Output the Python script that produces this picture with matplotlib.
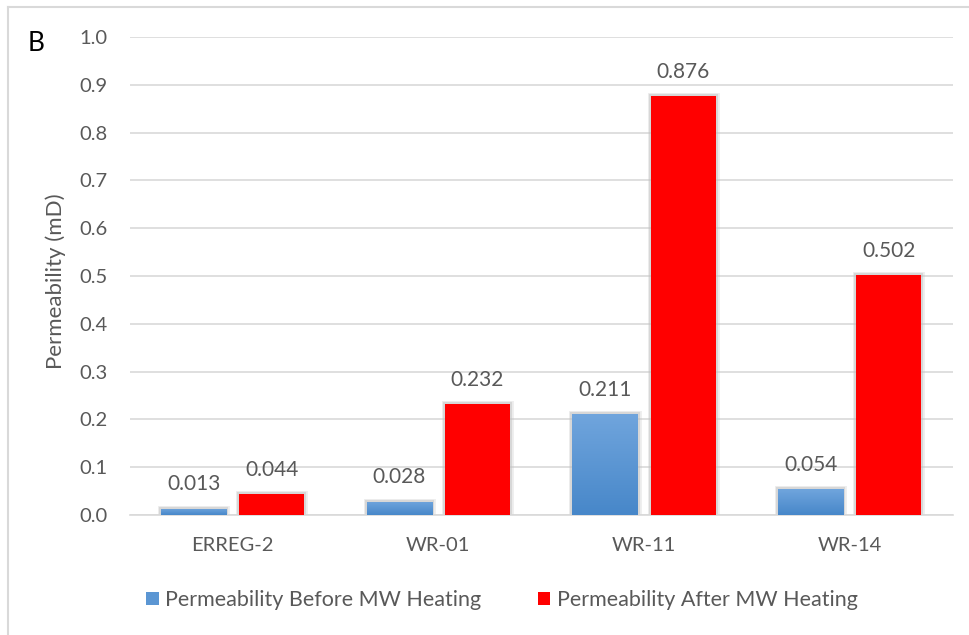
import numpy as np
import matplotlib.pyplot as plt
from matplotlib.colors import LinearSegmentedColormap
from matplotlib.patches import Rectangle
from matplotlib.lines import Line2D

plt.rcParams["font.family"] = ["Lato", "DejaVu Sans"]

categories = ["ERREG-2", "WR-01", "WR-11", "WR-14"]
before = [0.013, 0.028, 0.211, 0.054]
after = [0.044, 0.232, 0.876, 0.502]
labels = ["Permeability Before MW Heating", "Permeability After MW Heating"]

text_c = "#595959"
grid_c = "#d9d9d9"
red = "#ff0000"
blue_top, blue_bot = "#70a5dd", "#4787c9"

fig = plt.figure(figsize=(9.69, 6.35), dpi=100)
ax = fig.add_axes([0.134, 0.189, 0.849, 0.7525])

x = np.arange(len(categories))
w = 0.317
off = 0.19

blue_cmap = LinearSegmentedColormap.from_list("b", [blue_bot, blue_top])
grad = np.linspace(0, 1, 256).reshape(-1, 1)

# soft shadow-ish outlines behind bars
for lw, a in [(5, 0.25), (3, 0.5)]:
    ax.bar(x - off, before, w, color="none", edgecolor="#c0c0c0", linewidth=lw,
           alpha=a, zorder=2)
    ax.bar(x + off, after, w, color="none", edgecolor="#c0c0c0", linewidth=lw,
           alpha=a, zorder=2)

bars_b = ax.bar(x - off, before, w, color=blue_top, linewidth=0, zorder=3)
bars_a = ax.bar(x + off, after, w, color=red, linewidth=0, zorder=3)

for b in bars_b:
    x0, y0 = b.get_x(), b.get_y()
    bw, bh = b.get_width(), b.get_height()
    im = ax.imshow(grad, cmap=blue_cmap, origin="lower", aspect="auto",
                   extent=[x0, x0 + bw, y0, y0 + bh], zorder=3.5)
    im.set_clip_path(b)

for bars, vals in [(bars_b, before), (bars_a, after)]:
    for b, v in zip(bars, vals):
        ax.text(b.get_x() + b.get_width() / 2, v + 0.03, f"{v:.3f}",
                ha="center", va="bottom", fontsize=15, color=text_c)

ax.set_xlim(-0.5, len(categories) - 0.5)
ax.set_ylim(0, 1.0)
ax.set_yticks(np.arange(0, 1.01, 0.1))
ax.set_yticklabels([f"{t:.1f}" for t in np.arange(0, 1.01, 0.1)])
ax.set_xticks(x)
ax.set_xticklabels(categories)
ax.tick_params(axis="both", length=0, labelsize=14.5, colors=text_c)
ax.tick_params(axis="y", pad=16)
ax.tick_params(axis="x", pad=16)
ax.yaxis.grid(True, color=grid_c, linewidth=1.2, zorder=0)
ax.set_axisbelow(True)
for s in ["top", "right", "left"]:
    ax.spines[s].set_visible(False)
ax.spines["bottom"].set_color(grid_c)
ax.spines["bottom"].set_linewidth(1.2)

ax.set_ylabel("Permeability (mD)", fontsize=16, color=text_c)
ax.yaxis.set_label_coords(-0.077, 0.49)

fig.text(0.028, 0.931, "B", fontsize=19, color="black", ha="left", va="center")

handles = [Rectangle((0, 0), 1, 1, facecolor="#5b96d3"),
           Rectangle((0, 0), 1, 1, facecolor=red)]
fig.legend(handles, labels, loc="center", bbox_to_anchor=(0.518, 0.055),
           ncol=2, frameon=False, fontsize=15.5, labelcolor=text_c,
           handlelength=0.6, handleheight=0.6, handletextpad=0.3,
           columnspacing=2.6)

# outer chart border
fig.add_artist(Line2D([0.0083, 0.0083], [0.0, 0.989], color=grid_c, linewidth=1.5))
fig.add_artist(Line2D([0.0083, 1.0], [0.989, 0.989], color=grid_c, linewidth=1.5))

fig.savefig("out.png", dpi=100, facecolor="white")
